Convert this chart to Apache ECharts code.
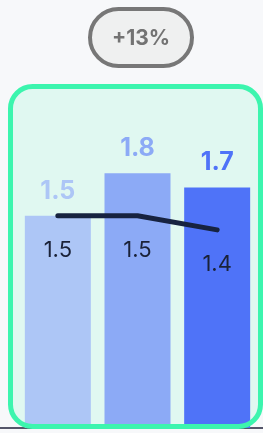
<!DOCTYPE html>
<html><head><meta charset="utf-8">
<script src="https://cdn.jsdelivr.net/npm/echarts@6/dist/echarts.min.js"></script>
<style>html,body{margin:0;padding:0;background:#f7f8fa;}#c{width:263px;height:433px;}</style>
</head><body><div id="c"></div>
<script>
var categories = ['A', 'B', 'C'];
var barValues = [1.5, 1.8, 1.7];
var lineValues = [1.5, 1.5, 1.4];
var barColors = ['#adc6f6', '#8caaf6', '#4f73f8'];
var badgeText = '+13%';

var chart = echarts.init(document.getElementById('c'));
chart.setOption({
  backgroundColor: '#f7f8fa',
  animation: false,
  grid: {left: 18, right: 6, top: 145, bottom: 5},
  xAxis: {type: 'category', data: categories, show: false},
  yAxis: {type: 'value', min: 0, max: 2, show: false},
  graphic: [
    {type: 'line', z: 0, shape: {x1: 0, y1: 428, x2: 263, y2: 428}, style: {stroke: '#1e1f38', lineWidth: 1.5}},
    {type: 'rect', z: 1, shape: {x: 10.5, y: 86.5, width: 250, height: 340, r: 22}, style: {fill: '#e0f8f1'}},
    {type: 'rect', z: 100, shape: {x: 10.5, y: 86.5, width: 250, height: 340, r: 22}, style: {fill: 'none', stroke: '#3cf5ae', lineWidth: 5}},
    {type: 'rect', z: 100, shape: {x: 90, y: 9, width: 102, height: 57, r: 28.5}, style: {fill: '#eff0f0', stroke: '#777777', lineWidth: 4}},
    {type: 'text', z: 101, x: 141, y: 39, style: {text: badgeText, fill: '#737373', font: 'bold 21px Inter', align: 'center', verticalAlign: 'middle'}}
  ],
  series: [
    {
      type: 'bar', z: 5, barWidth: 66,
      data: barValues.map(function (v, i) {
        return {value: v, itemStyle: {color: barColors[i]}, label: {color: barColors[i]}};
      }),
      label: {show: true, position: 'top', distance: 12, fontFamily: 'Inter', fontWeight: 'bold', fontSize: 25}
    },
    {
      type: 'line', z: 6, data: lineValues,
      symbol: 'circle', symbolSize: 1, showSymbol: true, itemStyle: {color: 'rgba(0,0,0,0)'},
      lineStyle: {color: '#172340', width: 5, cap: 'round', join: 'round'},
      label: {show: true, position: 'bottom', distance: 23, fontFamily: 'Inter', fontSize: 22, color: '#1a2238'}
    }
  ]
});
</script></body></html>
